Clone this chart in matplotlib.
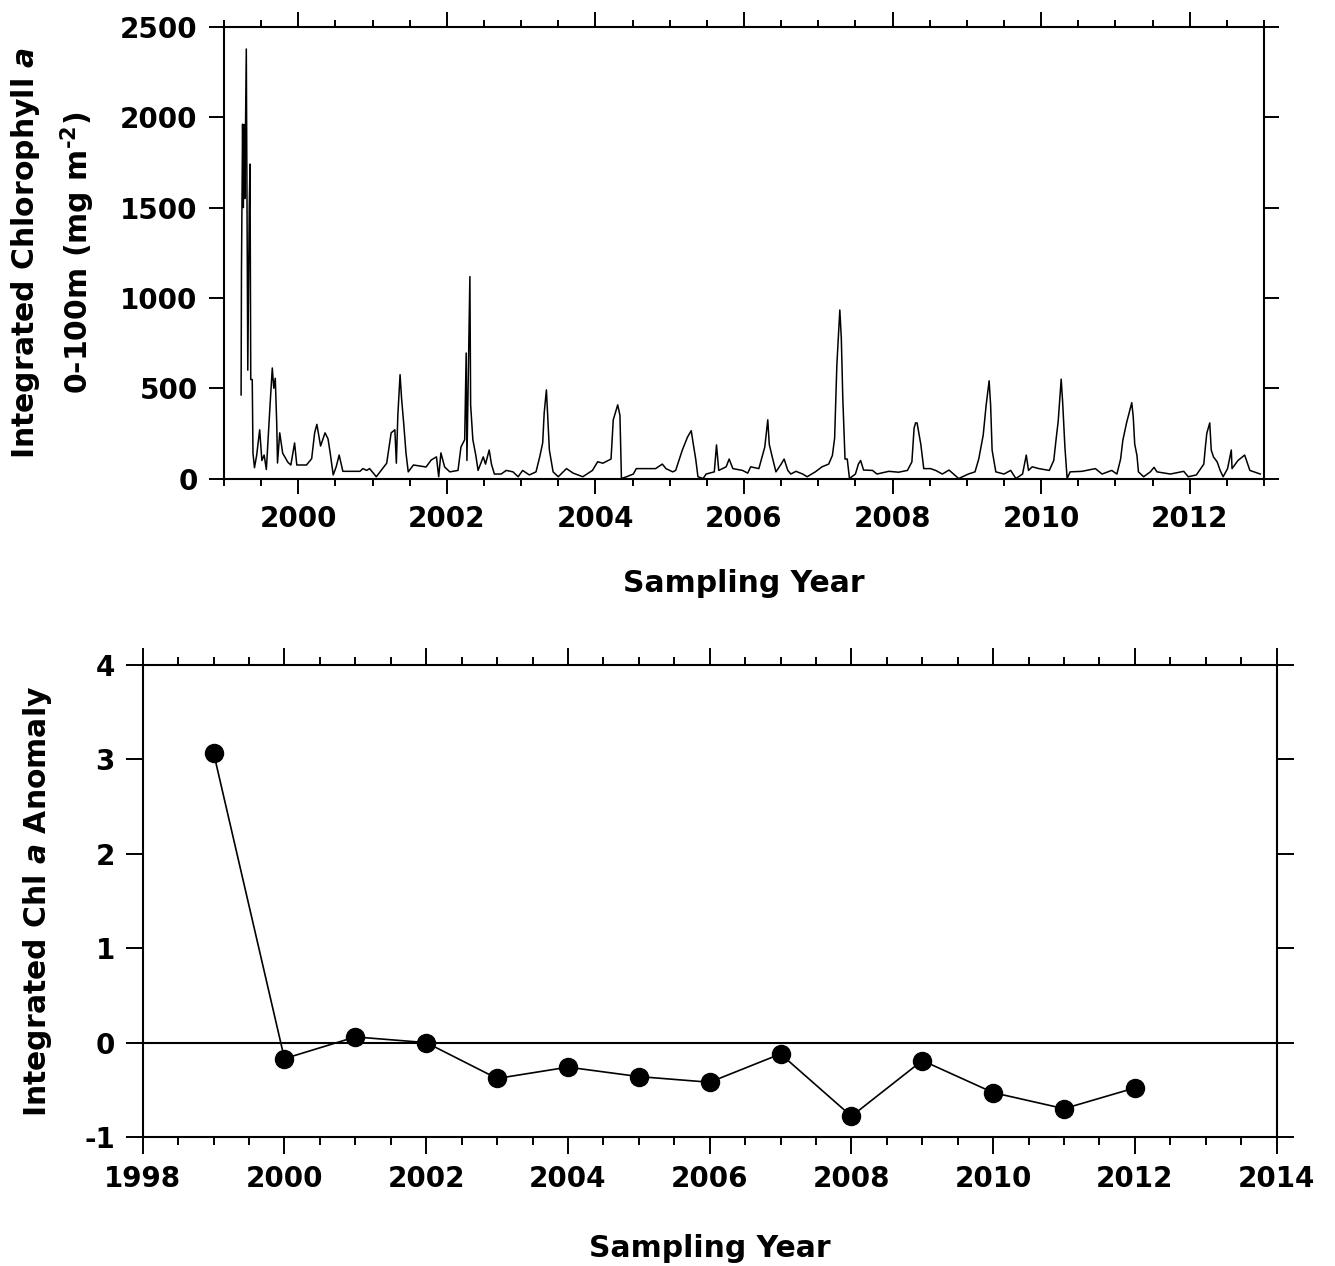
import matplotlib
matplotlib.use("Agg")
import matplotlib.pyplot as plt
from matplotlib.ticker import MultipleLocator

plt.rcParams['font.family'] = ['DejaVu Sans']
plt.rcParams['font.weight'] = 'bold'
plt.rcParams['axes.unicode_minus'] = False
plt.rcParams['mathtext.fontset'] = 'custom'
plt.rcParams['mathtext.rm'] = 'DejaVu Sans:bold'
plt.rcParams['mathtext.it'] = 'DejaVu Sans:italic:bold'
plt.rcParams['mathtext.default'] = 'rm'

# integrated chlorophyll time series (decimal year, mg m-2)
sample_year = [
    1999.23, 1999.235, 1999.25, 1999.26, 1999.27, 1999.28, 1999.30, 1999.31,
    1999.32, 1999.34, 1999.35, 1999.36, 1999.38, 1999.39, 1999.41, 1999.44,
    1999.48, 1999.51, 1999.54, 1999.57, 1999.62, 1999.65, 1999.67, 1999.69,
    1999.71, 1999.72, 1999.75, 1999.79, 1999.86, 1999.90, 1999.95, 1999.98,
    2000.11, 2000.18, 2000.22, 2000.25, 2000.30, 2000.36, 2000.40, 2000.43,
    2000.47, 2000.51, 2000.55, 2000.60, 2000.83, 2000.87, 2000.92, 2000.96,
    2001.05, 2001.19, 2001.25, 2001.30, 2001.32, 2001.34, 2001.37, 2001.39,
    2001.42, 2001.45, 2001.48, 2001.55, 2001.72, 2001.79, 2001.86, 2001.89,
    2001.92, 2001.97, 2002.04, 2002.15, 2002.19, 2002.24, 2002.26, 2002.27,
    2002.31, 2002.32, 2002.35, 2002.39, 2002.42, 2002.49, 2002.52, 2002.57,
    2002.60, 2002.64, 2002.73, 2002.80, 2002.89, 2002.96, 2003.02, 2003.11,
    2003.20, 2003.25, 2003.29, 2003.31, 2003.34, 2003.36, 2003.38, 2003.43,
    2003.50, 2003.61, 2003.70, 2003.83, 2003.96, 2004.03, 2004.10, 2004.21,
    2004.24, 2004.28, 2004.30, 2004.33, 2004.35, 2004.42, 2004.51, 2004.55,
    2004.68, 2004.81, 2004.90, 2004.95, 2005.04, 2005.08, 2005.17, 2005.24,
    2005.29, 2005.31, 2005.35, 2005.38, 2005.45, 2005.49, 2005.60, 2005.63,
    2005.66, 2005.76, 2005.80, 2005.85, 2005.98, 2006.05, 2006.09, 2006.20,
    2006.28, 2006.32, 2006.34, 2006.38, 2006.43, 2006.50, 2006.54, 2006.59,
    2006.63, 2006.70, 2006.79, 2006.85, 2006.96, 2007.05, 2007.14, 2007.19,
    2007.22, 2007.25, 2007.29, 2007.31, 2007.33, 2007.36, 2007.39, 2007.42,
    2007.50, 2007.54, 2007.57, 2007.61, 2007.73, 2007.79, 2007.95, 2008.08,
    2008.20, 2008.26, 2008.29, 2008.31, 2008.33, 2008.38, 2008.42, 2008.51,
    2008.58, 2008.67, 2008.76, 2008.89, 2009.02, 2009.11, 2009.16, 2009.22,
    2009.26, 2009.30, 2009.32, 2009.34, 2009.39, 2009.50, 2009.59, 2009.66,
    2009.75, 2009.80, 2009.83, 2009.88, 2009.97, 2010.11, 2010.17, 2010.20,
    2010.23, 2010.27, 2010.29, 2010.32, 2010.35, 2010.39, 2010.55, 2010.73,
    2010.82, 2010.95, 2011.02, 2011.07, 2011.10, 2011.15, 2011.22, 2011.24,
    2011.26, 2011.29, 2011.31, 2011.38, 2011.47, 2011.52, 2011.56, 2011.74,
    2011.92, 2011.98, 2012.09, 2012.19, 2012.21, 2012.23, 2012.27, 2012.29,
    2012.32, 2012.37, 2012.41, 2012.45, 2012.51, 2012.56, 2012.57, 2012.65,
    2012.74, 2012.81, 2012.95,
]
chl_integrated = [
    463, 1153, 1962, 1500, 1960, 1550, 2378, 1503,
    600, 1503, 1741, 548, 548, 140, 60, 130,
    270, 100, 130, 50, 408, 612, 500, 555,
    300, 86, 253, 140, 90, 75, 197, 75,
    75, 110, 253, 300, 180, 253, 220, 140,
    20, 65, 130, 40, 40, 55, 45, 55,
    10, 85, 253, 270, 85, 350, 575, 445,
    300, 140, 37, 75, 64, 103, 120, 10,
    142, 64, 37, 45, 175, 215, 695, 100,
    1118, 407, 215, 128, 45, 120, 80, 158,
    80, 25, 25, 45, 37, 10, 45, 20,
    37, 120, 197, 362, 491, 325, 158, 37,
    10, 55, 30, 10, 45, 93, 85, 108,
    325, 380, 408, 350, 0, 10, 25, 55,
    55, 55, 80, 55, 37, 45, 158, 230,
    265, 210, 108, 10, 0, 25, 37, 186,
    45, 65, 108, 55, 45, 30, 65, 55,
    175, 325, 190, 120, 37, 80, 108, 45,
    25, 40, 25, 10, 37, 65, 80, 128,
    223, 628, 933, 778, 445, 108, 108, 0,
    25, 80, 100, 47, 45, 25, 40, 35,
    45, 92, 280, 308, 308, 190, 55, 55,
    45, 25, 47, 0, 25, 37, 108, 240,
    407, 541, 407, 158, 37, 25, 45, 0,
    25, 130, 45, 65, 55, 45, 100, 212,
    318, 550, 420, 175, 0, 37, 40, 55,
    25, 45, 25, 108, 212, 308, 420, 342,
    190, 128, 37, 10, 37, 62, 37, 25,
    40, 10, 20, 80, 170, 250, 308, 158,
    120, 92, 45, 10, 55, 158, 55, 100,
    130, 45, 25,
]

# annual anomaly
anomaly_year = [1999, 2000, 2001, 2002, 2003, 2004, 2005, 2006, 2007, 2008,
                2009, 2010, 2011, 2012]
anomaly = [3.07, -0.17, 0.06, 0.0, -0.38, -0.26, -0.36, -0.42, -0.12, -0.78,
           -0.19, -0.53, -0.70, -0.48]

fig = plt.figure(figsize=(13.35, 12.66), dpi=100)


def style_axes(ax, major_len, minor_len):
    for s in ax.spines.values():
        s.set_linewidth(1.5)
    ax.tick_params(which='both', direction='out', top=True, right=True,
                   width=1.4, labelsize=20, pad=8)
    ax.tick_params(which='major', length=major_len)
    ax.tick_params(which='minor', length=minor_len)
    for lab in ax.get_xticklabels() + ax.get_yticklabels():
        lab.set_fontweight('bold')


# top panel
ax1 = fig.add_axes([0.1678, 0.622, 0.779, 0.3567])
ax1.plot(sample_year, chl_integrated, color='black', lw=1.1)
ax1.set_xlim(1999, 2013)
ax1.set_ylim(0, 2500)
ax1.xaxis.set_major_locator(MultipleLocator(2))
ax1.xaxis.set_minor_locator(MultipleLocator(0.5))
ax1.yaxis.set_major_locator(MultipleLocator(500))
style_axes(ax1, 11, 5)
ax1.set_xlabel('Sampling Year', fontsize=21.5, fontweight='bold', labelpad=26)
fig.text(0.019, 0.80, r'Integrated Chlorophyll $\mathit{a}$', rotation=90,
         ha='center', va='center', fontsize=21.5, fontweight='bold')
fig.text(0.058, 0.80, r'0-100m (mg m$^{\text{-2}}$)', rotation=90,
         ha='center', va='center', fontsize=21.5, fontweight='bold')

# bottom panel
ax2 = fig.add_axes([0.1069, 0.1019, 0.8494, 0.3728])
ax2.axhline(0, color='black', lw=1.5)
ax2.plot(anomaly_year, anomaly, color='black', lw=1.2, marker='o',
         markersize=13, markerfacecolor='black', markeredgecolor='black')
ax2.set_xlim(1998, 2014)
ax2.set_ylim(-1, 4)
ax2.xaxis.set_major_locator(MultipleLocator(2))
ax2.xaxis.set_minor_locator(MultipleLocator(0.5))
ax2.yaxis.set_major_locator(MultipleLocator(1))
style_axes(ax2, 12, 6)
ax2.set_xlabel('Sampling Year', fontsize=21.5, fontweight='bold', labelpad=30)
ax2.set_ylabel(r'Integrated Chl $\mathit{a}$ Anomaly', fontsize=21.5,
               fontweight='bold', labelpad=22)

fig.savefig('out.png', dpi=100)
